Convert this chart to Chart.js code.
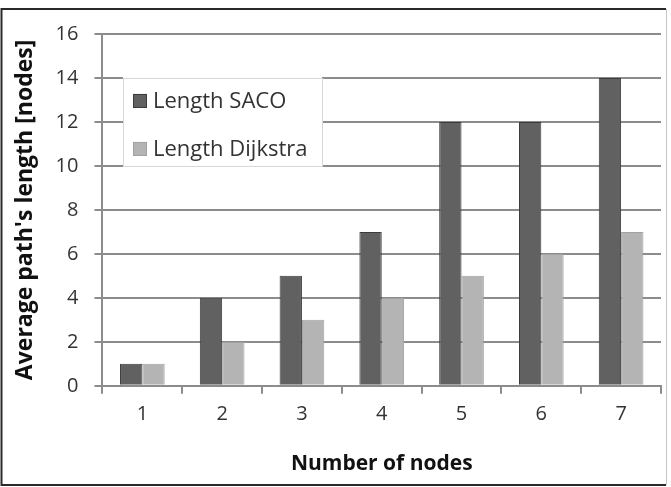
<!DOCTYPE html>
<html>
<head>
<meta charset="utf-8">
<script src="https://cdn.jsdelivr.net/npm/chart.js@4/dist/chart.umd.min.js"></script>
<style>
  body { margin: 0; background: #fff; }
  #wrap { width: 671px; height: 487px; }
</style>
</head>
<body>
<div id="wrap"><canvas id="chart" width="671" height="487"></canvas></div>
<script>
const categories = ['1', '2', '3', '4', '5', '6', '7'];
const lengthSaco = [1, 4, 5, 7, 12, 12, 14];
const lengthDijkstra = [1, 2, 3, 4, 5, 6, 7];
const seriesNames = ['Length SACO', 'Length Dijkstra'];

const FONT = '"Open Sans", "DejaVu Sans", sans-serif';
const GRID = '#8c8c8c';

// frame round the whole picture
const framePlugin = {
  id: 'frame',
  afterDraw(chart) {
    const { ctx } = chart;
    ctx.save();
    ctx.lineWidth = 2;
    ctx.strokeStyle = '#2a2a2a';
    ctx.beginPath();
    ctx.moveTo(666, 9);
    ctx.lineTo(1.5, 9);
    ctx.lineTo(1.5, 485);
    ctx.lineTo(666, 485);
    ctx.stroke();
    ctx.strokeStyle = '#c4c4c4';
    ctx.lineWidth = 1;
    ctx.beginPath();
    ctx.moveTo(666.5, 9);
    ctx.lineTo(666.5, 485);
    ctx.stroke();
    ctx.restore();
  },
};

// legend box sitting inside the plot, over the gridlines
const boxLegend = {
  id: 'boxLegend',
  afterDatasetsDraw(chart) {
    const { ctx } = chart;
    const y = chart.scales.y;
    const top = y.getPixelForValue(14);
    const bottom = y.getPixelForValue(10);
    const left = 123;
    const right = 322;
    ctx.save();
    ctx.fillStyle = '#fff';
    ctx.fillRect(left, top - 1, right - left, bottom - top + 2);
    ctx.strokeStyle = '#d8d8d8';
    ctx.lineWidth = 1;
    ctx.strokeRect(left + 0.5, top + 0.5, right - left, bottom - top);
    ctx.font = '22px ' + FONT;
    ctx.textBaseline = 'middle';
    chart.data.datasets.forEach((ds, i) => {
      const cy = top + 23 + i * 48;
      ctx.fillStyle = ds.backgroundColor;
      ctx.fillRect(133, cy - 7, 14, 14);
      ctx.strokeStyle = ds.borderColor;
      ctx.strokeRect(133.5, cy - 6.5, 13, 13);
      ctx.fillStyle = '#333';
      ctx.fillText(ds.label, 153, cy + 1);
    });
    ctx.restore();
  },
};

new Chart(document.getElementById('chart'), {
  type: 'bar',
  data: {
    labels: categories,
    datasets: [
      {
        label: seriesNames[0],
        data: lengthSaco,
        backgroundColor: '#616161',
        borderColor: '#3c3c3c',
        borderWidth: 1,
        categoryPercentage: 0.56,
        barPercentage: 1,
      },
      {
        label: seriesNames[1],
        data: lengthDijkstra,
        backgroundColor: '#b4b4b4',
        borderColor: '#a2a2a2',
        borderWidth: 1,
        categoryPercentage: 0.56,
        barPercentage: 1,
      },
    ],
  },
  options: {
    responsive: false,
    animation: false,
    layout: { padding: { top: 34, right: 10, bottom: 10, left: 12 } },
    plugins: {
      legend: { display: false },
      tooltip: { enabled: false },
    },
    scales: {
      x: {
        grid: {
          display: true,
          drawOnChartArea: false,
          drawTicks: true,
          tickLength: 8,
          color: GRID,
          lineWidth: 2,
          offset: true,
        },
        border: { color: GRID, width: 2 },
        ticks: { color: '#333', font: { family: FONT, size: 20 }, padding: 8 },
        title: {
          display: true,
          text: 'Number of nodes',
          color: '#111',
          font: { family: FONT, size: 21, weight: 'bold' },
          padding: { top: 18, bottom: 0 },
        },
      },
      y: {
        min: 0,
        max: 16,
        ticks: { stepSize: 2, color: '#333', font: { family: FONT, size: 20 }, padding: 16 },
        grid: { color: GRID, lineWidth: 2, tickLength: 8 },
        border: { color: GRID, width: 2 },
        title: {
          display: true,
          text: "Average path's length [nodes]",
          color: '#111',
          font: { family: FONT, size: 23, weight: 'bold' },
          padding: { top: 0, bottom: 0 },
        },
      },
    },
  },
  plugins: [boxLegend, framePlugin],
});
</script>
</body>
</html>
